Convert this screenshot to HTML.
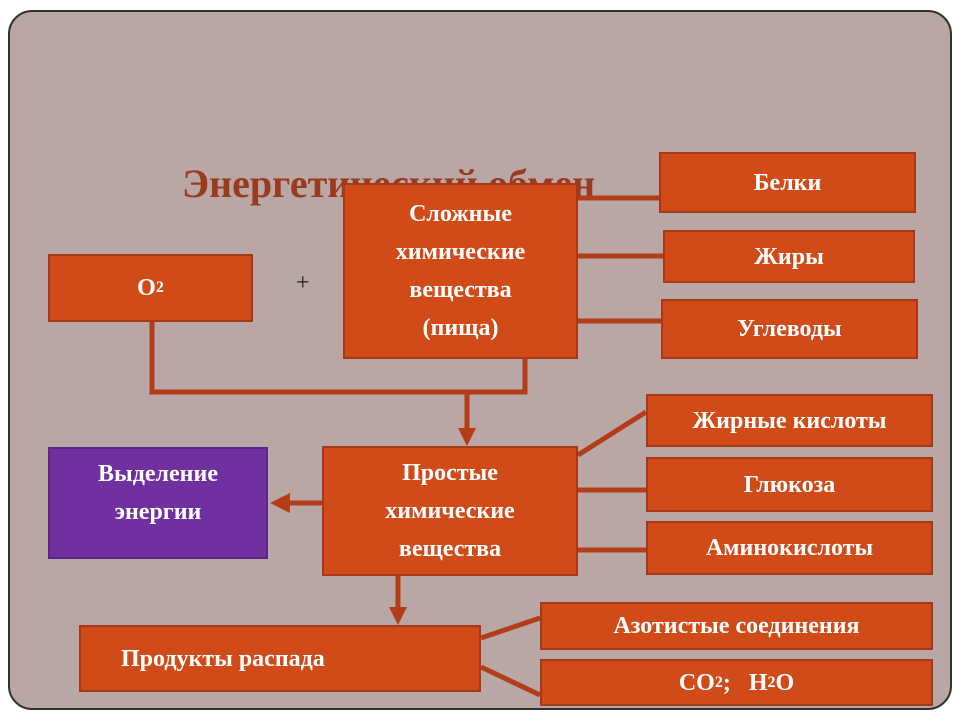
<!DOCTYPE html>
<html><head><meta charset="utf-8"><style>
body{margin:0;width:960px;height:720px;background:#fff;overflow:hidden;position:relative;font-family:"Liberation Serif",serif}
.frame{position:absolute;left:8px;top:10px;width:944px;height:700px;background:#b9a7a5;border:2px solid #333;border-radius:24px;box-sizing:border-box}
.b{position:absolute;background:#d14b18;border:2px solid #a8381a;box-sizing:border-box;color:#fff;font-weight:bold;font-size:24px;display:flex;align-items:center;justify-content:center;text-align:center;line-height:38px}
.t{position:absolute;color:#9a3a1e;font-weight:bold;font-size:40px;left:182px;top:160px}
svg{position:absolute;left:0;top:0}
</style></head><body>
<div class="frame"></div>
<div class="t">Энергетический обмен</div>
<svg width="960" height="720">
<g stroke="#b23d18" stroke-width="5" fill="none">
<line x1="578" y1="198" x2="660" y2="198"/>
<line x1="578" y1="256" x2="664" y2="256"/>
<line x1="578" y1="321" x2="662" y2="321"/>
<polyline points="152,322 152,392 525,392 525,359"/>
<line x1="467" y1="392" x2="467" y2="436"/>
<line x1="578" y1="455" x2="646" y2="412"/>
<line x1="578" y1="490" x2="646" y2="490"/>
<line x1="578" y1="550" x2="646" y2="550"/>
<line x1="322" y1="503" x2="285" y2="503"/>
<line x1="398" y1="576" x2="398" y2="615"/>
<line x1="481" y1="638" x2="540" y2="618"/>
<line x1="481" y1="667" x2="540" y2="695"/>
</g>
<g fill="#b23d18">
<polygon points="458,428 476,428 467,446"/>
<polygon points="290,493 290,513 270,503"/>
<polygon points="389,607 407,607 398,625"/>
</g>
</svg>
<div class="b" style="left:48px;top:254px;width:205px;height:68px">O<span style="font-size:16px;align-self:center">2</span></div>
<div style="position:absolute;left:296px;top:270px;font-size:24px;color:#222">+</div>
<div class="b" style="left:343px;top:183px;width:235px;height:176px">Сложные<br>химические<br>вещества<br>(пища)</div>
<div class="b" style="left:659px;top:152px;width:257px;height:61px">Белки</div>
<div class="b" style="left:663px;top:230px;width:252px;height:53px">Жиры</div>
<div class="b" style="left:661px;top:299px;width:257px;height:60px">Углеводы</div>
<div class="b" style="left:646px;top:394px;width:287px;height:53px">Жирные кислоты</div>
<div class="b" style="left:48px;top:447px;width:220px;height:112px;background:#7030a0;border-color:#5a2688;align-items:flex-start;padding-top:6px">Выделение<br>энергии</div>
<div class="b" style="left:322px;top:446px;width:256px;height:130px">Простые<br>химические<br>вещества</div>
<div class="b" style="left:646px;top:457px;width:287px;height:55px">Глюкоза</div>
<div class="b" style="left:646px;top:521px;width:287px;height:54px">Аминокислоты</div>
<div class="b" style="left:79px;top:625px;width:402px;height:67px;justify-content:flex-start;padding-left:40px">Продукты распада</div>
<div class="b" style="left:540px;top:602px;width:393px;height:48px">Азотистые соединения</div>
<div class="b" style="left:540px;top:659px;width:393px;height:47px">CO<span style="font-size:16px">2</span>;&nbsp;&nbsp;&nbsp;H<span style="font-size:16px">2</span>O</div>
</body></html>
